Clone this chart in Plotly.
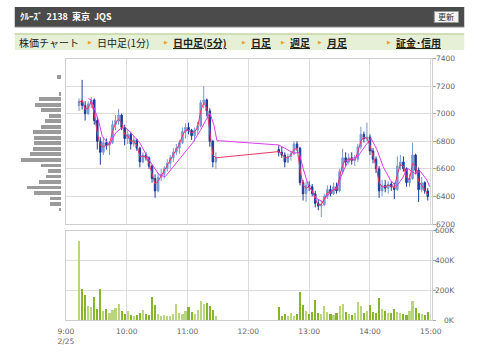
import plotly.graph_objects as go

W, H = 480, 358

# ---------------- data ----------------
candle_time = [
    "09:13", "09:16", "09:19", "09:22", "09:25", "09:28", "09:31", "09:34", "09:37", "09:40",
    "09:43", "09:46", "09:49", "09:52", "09:55", "09:58", "10:01", "10:04", "10:07", "10:10",
    "10:13", "10:16", "10:19", "10:22", "10:25", "10:28", "10:31", "10:34", "10:37", "10:40",
    "10:43", "10:46", "10:49", "10:52", "10:55", "10:58", "11:01", "11:04", "11:07", "11:10",
    "11:13", "11:16", "11:19", "11:22", "11:25", "11:28",
    "12:30", "12:33", "12:36", "12:39", "12:42", "12:45", "12:48", "12:51", "12:54", "12:57",
    "13:00", "13:03", "13:06", "13:09", "13:12", "13:15", "13:18", "13:21", "13:24", "13:27",
    "13:30", "13:33", "13:36", "13:39", "13:42", "13:45", "13:48", "13:51", "13:54", "13:57",
    "14:00", "14:03", "14:06", "14:09", "14:12", "14:15", "14:18", "14:21", "14:24", "14:27",
    "14:30", "14:33", "14:36", "14:39", "14:42", "14:45", "14:48", "14:51", "14:54", "14:57",
]
candle_open = [
    7060, 7090, 7060, 7000, 7070, 7100, 6950, 6800, 6720, 6790,
    6770, 6790, 6920, 6950, 6990, 6900, 6820, 6850, 6780, 6810,
    6750, 6650, 6700, 6680, 6620, 6530, 6440, 6540, 6560, 6600,
    6640, 6680, 6720, 6750, 6790, 6870, 6900, 6880, 6840, 6880,
    6910, 7080, 7100, 7020, 6800, 6650,
    6740, 6720, 6700, 6650, 6690, 6710, 6780, 6750, 6500, 6420,
    6480, 6470, 6420, 6350, 6330, 6340, 6400, 6450, 6420, 6470,
    6440, 6580, 6680, 6650, 6680, 6660, 6670, 6760, 6850, 6820,
    6830, 6730, 6670, 6600, 6440, 6480, 6460, 6490, 6470, 6450,
    6620, 6650, 6600, 6500, 6530, 6700, 6590, 6450, 6500, 6440,
]
candle_high = [
    7110, 7245, 7090, 7090, 7120, 7110, 6980, 6830, 6830, 6820,
    6800, 6950, 6990, 7035, 7000, 6920, 6880, 6870, 6840, 6820,
    6760, 6720, 6720, 6690, 6630, 6560, 6570, 6600, 6620, 6670,
    6700, 6750, 6780, 6810, 6900, 6930, 6935, 6890, 6900, 6940,
    7100, 7200, 7110, 7040, 6810, 6720,
    6770, 6760, 6720, 6710, 6730, 6800, 6800, 6760, 6520, 6510,
    6510, 6490, 6440, 6380, 6370, 6420, 6480, 6480, 6500, 6500,
    6600, 6745, 6720, 6710, 6720, 6700, 6780, 6905, 6870, 6935,
    6850, 6750, 6690, 6620, 6520, 6520, 6510, 6510, 6500, 6690,
    6700, 6690, 6610, 6560, 6790, 6710, 6610, 6540, 6510, 6460,
]
candle_low = [
    7020, 7030, 6950, 6990, 7040, 6920, 6740, 6630, 6700, 6740,
    6700, 6780, 6880, 6920, 6880, 6770, 6780, 6740, 6760, 6730,
    6610, 6640, 6660, 6600, 6500, 6390, 6430, 6510, 6530, 6580,
    6600, 6650, 6700, 6710, 6780, 6820, 6850, 6810, 6800, 6850,
    6900, 7040, 6980, 6760, 6610, 6600,
    6690, 6680, 6610, 6640, 6660, 6700, 6730, 6480, 6370, 6360,
    6440, 6400, 6320, 6300, 6250, 6330, 6380, 6400, 6410, 6420,
    6430, 6560, 6620, 6630, 6630, 6620, 6650, 6740, 6790, 6800,
    6700, 6640, 6570, 6390, 6400, 6430, 6420, 6440, 6380, 6440,
    6590, 6580, 6470, 6470, 6520, 6560, 6360, 6430, 6420, 6370,
]
candle_close = [
    7090, 7060, 7000, 7070, 7100, 6950, 6800, 6720, 6790, 6770,
    6790, 6920, 6950, 6990, 6900, 6820, 6850, 6780, 6810, 6750,
    6650, 6700, 6680, 6620, 6530, 6440, 6540, 6560, 6600, 6640,
    6680, 6720, 6750, 6790, 6870, 6900, 6880, 6840, 6880, 6910,
    7080, 7100, 7020, 6800, 6650, 6680,
    6720, 6700, 6650, 6690, 6710, 6780, 6750, 6500, 6420, 6480,
    6470, 6420, 6350, 6330, 6340, 6400, 6450, 6420, 6470, 6440,
    6580, 6680, 6650, 6680, 6660, 6670, 6760, 6850, 6820, 6830,
    6730, 6670, 6600, 6440, 6480, 6460, 6490, 6470, 6450, 6620,
    6650, 6600, 6500, 6530, 6700, 6590, 6450, 6500, 6440, 6400,
]
# short moving average (red line), read at each candle
ma_short = [
    7080, 7100, 7030, 7040, 7090, 7000, 6860, 6770, 6760, 6770,
    6780, 6870, 6930, 6960, 6930, 6850, 6840, 6800, 6800, 6770,
    6690, 6690, 6690, 6640, 6560, 6490, 6510, 6550, 6580, 6630,
    6670, 6710, 6740, 6780, 6840, 6880, 6880, 6860, 6870, 6900,
    7020, 7080, 7040, 6850, 6700, 6680,
    6725, 6710, 6680, 6680, 6700, 6740, 6750, 6600, 6480, 6460,
    6470, 6440, 6380, 6340, 6340, 6380, 6430, 6430, 6450, 6450,
    6530, 6630, 6660, 6670, 6665, 6665, 6720, 6800, 6830, 6820,
    6770, 6690, 6620, 6500, 6470, 6470, 6480, 6475, 6460, 6560,
    6630, 6620, 6540, 6520, 6640, 6620, 6510, 6480, 6450, 6410,
]
# long moving average (magenta line)
ma_long_time = [
    "09:22", "09:25", "09:32", "09:36", "09:43", "09:49", "09:57", "10:03", "10:13", "10:22",
    "10:32", "10:38", "10:45", "10:54", "11:05", "11:13", "11:22", "11:26", "11:29",
    "12:30", "12:45", "12:50", "12:54", "12:59", "13:07", "13:13", "13:20", "13:28", "13:32",
    "13:39", "13:48", "13:56", "14:01", "14:07", "14:13", "14:20", "14:26", "14:32", "14:37",
    "14:44", "14:50", "14:56", "14:59",
]
ma_long = [
    7110, 7100, 6955, 6834, 6773, 6860, 6911, 6870, 6788, 6665,
    6556, 6543, 6607, 6689, 6788, 6883, 7005, 6919, 6805,
    6773, 6713, 6720, 6604, 6483, 6387, 6362, 6423, 6471, 6556,
    6665, 6689, 6773, 6822, 6737, 6616, 6520, 6471, 6532, 6604,
    6568, 6580, 6520, 6471,
]
# volume per bar (thousand shares)
volume_k = [
    530, 210, 170, 95, 85, 155, 75, 210, 60, 75,
    50, 70, 80, 110, 60, 40, 60, 35, 30, 35,
    45, 70, 40, 35, 155, 100, 40, 30, 35, 25,
    30, 40, 105, 45, 40, 60, 85, 55, 40, 70,
    125, 105, 115, 95, 70, 25,
    85, 25, 40, 30, 45, 30, 40, 185, 100, 60,
    40, 55, 135, 45, 40, 95, 55, 40, 35, 50,
    95, 110, 55, 40, 35, 45, 120, 95, 45, 60,
    100, 55, 50, 145, 75, 60, 45, 50, 75, 55,
    45, 40, 35, 60, 130, 80, 50, 40, 35, 55,
]
# price-by-volume profile (left)
profile_price = [7265, 7145, 7105, 7065, 7025, 6985, 6945, 6905, 6865, 6825, 6785, 6745,
                 6705, 6665, 6625, 6585, 6545, 6505, 6465, 6425, 6385, 6345, 6305]
profile_vol = [4, 2, 23, 27, 21, 12, 17, 21, 29, 28, 28, 29,
               32, 42, 21, 14, 16, 23, 35, 28, 11, 11, 2]

price_ticks = [6200, 6400, 6600, 6800, 7000, 7200, 7400]
volume_ticks = [0, 200, 400, 600]
volume_tick_text = ["0K", "200K", "400K", "600K"]
time_ticks = ["09:00", "10:00", "11:00", "12:00", "13:00", "14:00", "15:00"]
time_tick_text = ["9:00<br>2/25", "10:00", "11:00", "12:00", "13:00", "14:00", "15:00"]

title_text = "ｸﾙｰｽﾞ  2138  東京  JQS"
button_text = "更新"
tab_items = ["日中足(1分)", "日中足(5分)", "日足", "週足", "月足", "証金･信用"]
tab_active = [False, True, True, True, True, True]
tab_label = "株価チャート"


# ---------------- helpers ----------------
def mins(s):
    h, m = s.split(":")
    return (int(h) - 9) * 60 + int(m)


def px(x):
    return x / W


def py(y):
    return 1 - y / H


t_candle = [mins(s) for s in candle_time]
t_long = [mins(s) for s in ma_long_time]
t_ticks = [mins(s) for s in time_ticks]

X_RANGE = [0, 361.6]
GRID = "#dcdcdc"
FRAME = "#cfcfcf"
LABEL_FONT = dict(family="DejaVu Sans, Verdana, sans-serif", size=7.5, color="#666666")
JP = "Noto Sans CJK JP, sans-serif"

fig = go.Figure()

fig.add_trace(go.Bar(
    x=profile_vol, y=profile_price, orientation="h", width=27,
    marker=dict(color="#9b9b9b", line=dict(width=0)),
    xaxis="x3", yaxis="y3", hoverinfo="skip",
))

fig.add_trace(go.Candlestick(
    x=t_candle, open=candle_open, high=candle_high, low=candle_low, close=candle_close,
    increasing=dict(line=dict(color="#7a97d4", width=1), fillcolor="#7a97d4"),
    decreasing=dict(line=dict(color="#1b3d99", width=1), fillcolor="#1b3d99"),
    whiskerwidth=0, xaxis="x", yaxis="y", hoverinfo="skip",
))

fig.add_trace(go.Scatter(
    x=t_long, y=ma_long, mode="lines", line=dict(color="#dd3cf0", width=1),
    xaxis="x", yaxis="y", hoverinfo="skip",
))
fig.add_trace(go.Scatter(
    x=t_candle, y=ma_short, mode="lines", line=dict(color="#e8386c", width=1),
    xaxis="x", yaxis="y", hoverinfo="skip",
))

vol_colors = ["#b9d67e" if c >= o else "#86b42a" for o, c in zip(candle_open, candle_close)]
fig.add_trace(go.Bar(
    x=t_candle, y=volume_k, width=2.1,
    marker=dict(color=vol_colors, line=dict(width=0)),
    xaxis="x2", yaxis="y2", hoverinfo="skip",
))

price_dom = [py(224), py(58.5)]
vol_dom = [py(320), py(230.7)]
x_dom = [px(60), px(440)]

axis_common = dict(showgrid=True, gridcolor=GRID, gridwidth=1, zeroline=False,
                   showline=True, linecolor=FRAME, linewidth=1, mirror=True)

fig.update_layout(
    width=W, height=H, margin=dict(l=0, r=0, t=0, b=0),
    paper_bgcolor="white", plot_bgcolor="white", showlegend=False,
    bargap=0, hovermode=False,
    xaxis=dict(domain=x_dom, range=X_RANGE, tickvals=t_ticks, showticklabels=False,
               ticks="", anchor="y", rangeslider=dict(visible=False), **axis_common),
    yaxis=dict(domain=price_dom, range=[6200, 7400], tickvals=price_ticks, side="right",
               showticklabels=False, ticks="outside", ticklen=3, tickcolor="#aaaaaa",
               anchor="x", **axis_common),
    xaxis2=dict(domain=x_dom, range=X_RANGE, tickvals=t_ticks, ticktext=time_tick_text,
                tickfont=LABEL_FONT, ticks="", ticklabelstandoff=4, anchor="y2", **axis_common),
    yaxis2=dict(domain=vol_dom, range=[0, 600], tickvals=volume_ticks, side="right",
                showticklabels=False, ticks="outside", ticklen=3, tickcolor="#aaaaaa",
                anchor="x2", **axis_common),
    xaxis3=dict(domain=[px(5), px(55)], range=[50, 0], visible=False, anchor="y3"),
    yaxis3=dict(domain=price_dom, range=[6200, 7400], visible=False, anchor="x3"),
)

annotations = []
for v in price_ticks:
    annotations.append(dict(x=px(466), xref="paper", y=v, yref="y", text=str(v),
                            showarrow=False, xanchor="right", yanchor="middle",
                            font=LABEL_FONT))
for v, t in zip(volume_ticks, volume_tick_text):
    annotations.append(dict(x=px(466), xref="paper", y=v, yref="y2", text=t,
                            showarrow=False, xanchor="right", yanchor="middle",
                            font=LABEL_FONT))

shapes = []
# header bar
shapes.append(dict(type="rect", xref="paper", yref="paper", x0=px(7), x1=px(473),
                   y0=py(27), y1=py(7), fillcolor="#4b4b4b", line=dict(width=0), layer="below"))
shapes.append(dict(type="line", xref="paper", yref="paper", x0=px(7), x1=px(473),
                   y0=py(27), y1=py(27), line=dict(color="#8a8a8a", width=1)))
# refresh button
shapes.append(dict(type="rect", xref="paper", yref="paper", x0=px(442), x1=px(467),
                   y0=py(22.5), y1=py(11.5), fillcolor="#f4f4f4",
                   line=dict(color="#9a9a9a", width=1)))
# tab bar
shapes.append(dict(type="rect", xref="paper", yref="paper", x0=px(7), x1=px(473),
                   y0=py(50), y1=py(33.5), fillcolor="#e6f0d6", line=dict(width=0), layer="below"))
shapes.append(dict(type="line", xref="paper", yref="paper", x0=px(7), x1=px(473),
                   y0=py(34), y1=py(34), line=dict(color="#c6d9a8", width=1.5)))

annotations.append(dict(x=px(10), y=py(17), xref="paper", yref="paper", text="<b>" + title_text + "</b>",
                        showarrow=False, xanchor="left", yanchor="middle",
                        font=dict(family=JP, size=9, color="white")))
annotations.append(dict(x=px(454.5), y=py(17), xref="paper", yref="paper", text=button_text,
                        showarrow=False, xanchor="center", yanchor="middle",
                        font=dict(family=JP, size=8, color="#333333")))
annotations.append(dict(x=px(9), y=py(42.5), xref="paper", yref="paper", text=tab_label,
                        showarrow=False, xanchor="left", yanchor="middle",
                        font=dict(family=JP, size=10, color="#222222")))

tri_x = [85, 163.5, 245, 285, 323.5, 395]
for item, active, tx in zip(tab_items, tab_active, tri_x):
    annotations.append(dict(x=px(tx), y=py(42), xref="paper", yref="paper", text="▶",
                            showarrow=False, xanchor="center", yanchor="middle",
                            font=dict(family="DejaVu Sans", size=5, color="#f0a028")))
    txt = "<b><u>" + item + "</u></b>" if active else item
    annotations.append(dict(x=px(tx + 5), y=py(42.5), xref="paper", yref="paper", text=txt,
                            showarrow=False, xanchor="left", yanchor="middle",
                            font=dict(family=JP, size=10, color="#222222")))

fig.update_layout(annotations=annotations, shapes=shapes)

fig.write_html(
    "out.html",
    config={"displayModeBar": False, "staticPlot": True},
    post_script=("document.documentElement.style.margin='0';"
                 "document.documentElement.style.overflow='hidden';"
                 "document.body.style.margin='0';document.body.style.padding='0';"
                 "document.body.style.overflow='hidden';"),
)
